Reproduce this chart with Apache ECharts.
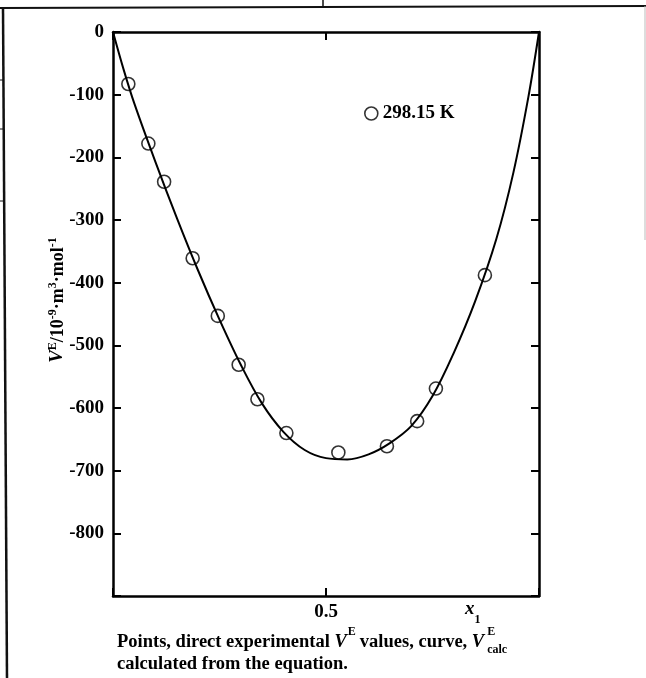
<!DOCTYPE html>
<html>
<head>
<meta charset="utf-8">
<script src="https://cdn.jsdelivr.net/npm/echarts@6/dist/echarts.min.js"></script>
<style>
html,body{margin:0;padding:0;background:#fff;}
#c{width:646px;height:678px;}
</style>
</head>
<body>
<div id="c"></div>
<script>
// Experimental points: mole fraction x1 and V^E (10^-9 m^3 mol^-1)
var pointX = [0.036, 0.083, 0.120, 0.187, 0.246, 0.295, 0.339, 0.407, 0.529, 0.643, 0.714, 0.758, 0.873];
var pointY = [-83, -178, -239, -361, -453, -531, -586, -640, -671, -661, -621, -569, -388];
// Calculated curve
var curveX = [0, 0.025, 0.05, 0.1, 0.15, 0.2, 0.25, 0.3, 0.35, 0.4, 0.45, 0.5, 0.55, 0.6, 0.65, 0.7, 0.75, 0.8, 0.85, 0.9, 0.94, 0.975, 1.0];
var curveY = [0, -60, -114, -208, -297, -381, -459, -531, -593, -638, -667, -680, -682, -674, -656, -629, -581, -512, -430, -330, -224, -104, 0];
var yTicks = [0, -100, -200, -300, -400, -500, -600, -700, -800];
var seriesName = '298.15 K';

var FONT = '"Liberation Serif", "DejaVu Serif", serif';

var pts = pointX.map(function (x, i) { return [x, pointY[i]]; });
var curve = curveX.map(function (x, i) { return [x, curveY[i]]; });

var chart = echarts.init(document.getElementById('c'), null, {renderer: 'canvas'});

var axisLine = {show: true, onZero: false, lineStyle: {color: '#000', width: 2.5}};
var tick = {show: true, inside: true, length: 8, lineStyle: {color: '#000', width: 2}};

chart.setOption({
  backgroundColor: '#fff',
  animation: false,
  grid: {left: 113, right: 107, top: 32, bottom: 82, containLabel: false},
  legend: {
    data: [seriesName],
    left: 364, top: 104, padding: 0,
    icon: 'circle',
    itemWidth: 13, itemHeight: 13,
    itemStyle: {color: 'rgba(0,0,0,0)', borderColor: '#000', borderWidth: 1.6},
    textStyle: {fontFamily: FONT, fontWeight: 'bold', fontSize: 19, color: '#000'}
  },
  xAxis: [{
    type: 'value', min: 0, max: 1, interval: 0.5, position: 'bottom',
    axisLine: axisLine, axisTick: tick,
    splitLine: {show: false},
    axisLabel: {
      margin: 7, color: '#000', fontFamily: FONT, fontWeight: 'bold', fontSize: 19,
      formatter: function (v) { return v === 0.5 ? '0.5' : ''; }
    }
  }, {
    type: 'value', min: 0, max: 1, interval: 0.5, position: 'top',
    axisLine: axisLine, axisTick: tick,
    splitLine: {show: false},
    axisLabel: {show: false}
  }],
  yAxis: [{
    type: 'value', min: -900, max: 0, interval: 100, position: 'left',
    axisLine: axisLine, axisTick: tick,
    splitLine: {show: false},
    axisLabel: {
      margin: 9, color: '#000', fontFamily: FONT, fontWeight: 'bold', fontSize: 19,
      formatter: function (v) { return yTicks.indexOf(v) >= 0 ? String(v) : ''; }
    },
    name: '{v|V}{sup|E}{n|/10}{sup|-9}{n|·m}{sup|3}{n|·mol}{sup|-1}',
    nameLocation: 'middle', nameRotate: 90, nameGap: 46, nameMoveOverlap: false,
    nameTextStyle: {
      fontFamily: FONT, fontWeight: 'bold', fontSize: 18, color: '#000',
      padding: [0, 0, 0, 28],
      rich: {
        v: {fontFamily: FONT, fontStyle: 'italic', fontWeight: 'bold', fontSize: 19, color: '#000', lineHeight: 26, verticalAlign: 'bottom'},
        n: {fontFamily: FONT, fontWeight: 'bold', fontSize: 18, color: '#000', lineHeight: 26, verticalAlign: 'bottom'},
        sup: {fontFamily: FONT, fontWeight: 'bold', fontSize: 12, color: '#000', lineHeight: 26, verticalAlign: 'bottom', padding: [0, 0, 8, 0]}
      }
    }
  }, {
    type: 'value', min: -900, max: 0, interval: 100, position: 'right',
    axisLine: axisLine, axisTick: tick,
    splitLine: {show: false},
    axisLabel: {show: false}
  }],
  series: [{
    name: 'curve', type: 'line', data: curve, xAxisIndex: 0, yAxisIndex: 0,
    smooth: 0.35, symbol: 'none', lineStyle: {color: '#000', width: 2}, z: 2
  }, {
    name: seriesName, type: 'scatter', data: pts, xAxisIndex: 0, yAxisIndex: 0,
    symbol: 'circle', symbolSize: 13,
    itemStyle: {color: 'rgba(0,0,0,0)', borderColor: '#000', borderWidth: 1.6}, z: 3
  }],
  graphic: [
    // scan frame lines
    {type: 'line', shape: {x1: 0, y1: 8, x2: 646, y2: 6}, style: {stroke: '#111', lineWidth: 2}},
    {type: 'line', shape: {x1: 3, y1: 8, x2: 7, y2: 678}, style: {stroke: '#111', lineWidth: 2.5}},
    {type: 'line', shape: {x1: 323, y1: 0, x2: 323, y2: 8}, style: {stroke: '#111', lineWidth: 1.5}},
    {type: 'line', shape: {x1: 645, y1: 6, x2: 645, y2: 240}, style: {stroke: '#bbb', lineWidth: 1}},
    {type: 'line', shape: {x1: 0, y1: 80, x2: 3, y2: 80}, style: {stroke: '#111', lineWidth: 1}},
    {type: 'line', shape: {x1: 0, y1: 129, x2: 3, y2: 129}, style: {stroke: '#111', lineWidth: 1}},
    {type: 'line', shape: {x1: 0, y1: 201, x2: 3, y2: 201}, style: {stroke: '#111', lineWidth: 1}},
    // x1 axis label
    {type: 'text', left: 465, top: 600, style: {
      text: '{x|x}{s|1}',
      rich: {
        x: {fontFamily: FONT, fontStyle: 'italic', fontWeight: 'bold', fontSize: 19, fill: '#000', lineHeight: 26, verticalAlign: 'top'},
        s: {fontFamily: FONT, fontWeight: 'bold', fontSize: 12, fill: '#000', lineHeight: 26, verticalAlign: 'bottom'}
      }
    }},
    // caption
    {type: 'text', left: 117, top: 626, style: {
      text: '{n|Points, direct experimental }{v|V}{sup|E}{n|values, curve, }{v|V}{sup2|E}{sub|calc}',
      rich: {
        n: {fontFamily: FONT, fontWeight: 'bold', fontSize: 18.5, fill: '#000', lineHeight: 26, verticalAlign: 'bottom'},
        v: {fontFamily: FONT, fontStyle: 'italic', fontWeight: 'bold', fontSize: 18.5, fill: '#000', lineHeight: 26, verticalAlign: 'bottom'},
        sup: {fontFamily: FONT, fontWeight: 'bold', fontSize: 12, fill: '#000', lineHeight: 26, verticalAlign: 'top', padding: [0, 4, 0, 1]},
        sup2: {fontFamily: FONT, fontWeight: 'bold', fontSize: 12, fill: '#000', lineHeight: 26, verticalAlign: 'top', width: 0, padding: [0, 0, 0, 3]},
        sub: {fontFamily: FONT, fontWeight: 'bold', fontSize: 12, fill: '#000', lineHeight: 20, verticalAlign: 'bottom', padding: [0, 0, -4, 0]}
      }
    }},
    {type: 'text', left: 117, top: 655, style: {
      text: 'calculated from the equation.',
      font: 'bold 18.5px ' + FONT, fill: '#000'
    }}
  ]
});
</script>
</body>
</html>
